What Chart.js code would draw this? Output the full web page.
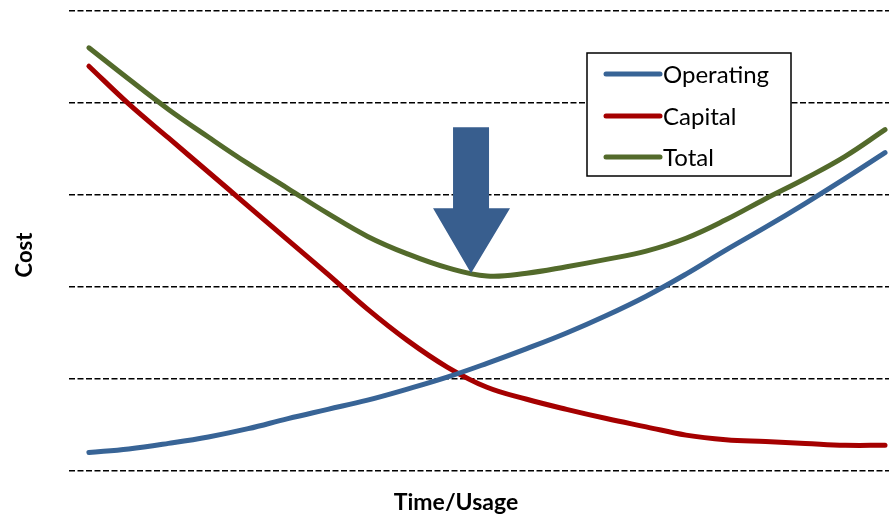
<!DOCTYPE html>
<html>
<head>
<meta charset="utf-8">
<script src="https://cdn.jsdelivr.net/npm/chart.js@4"></script>
<style>
  html, body { margin: 0; padding: 0; background: #fff; }
  #wrap { width: 889px; height: 516px; position: relative; }
</style>
</head>
<body>
<div id="wrap"><canvas id="costChart"></canvas></div>
<script>
// Waktu / pemakaian (sumbu x) dan nilai biaya tiap kurva
const timePoints = [1, 3, 5, 7, 9, 11, 13, 15, 17, 19, 21, 23, 25, 27, 29, 31, 33, 35, 37, 39, 41];
const operatingCost = [0.20, 0.24, 0.30, 0.37, 0.46, 0.57, 0.67, 0.77, 0.89, 1.02, 1.17, 1.33, 1.50, 1.69, 1.90, 2.14, 2.40, 2.65, 2.91, 3.18, 3.46];
const capitalCost = [4.40, 3.99, 3.62, 3.25, 2.88, 2.51, 2.14, 1.76, 1.42, 1.13, 0.91, 0.78, 0.67, 0.57, 0.48, 0.39, 0.34, 0.32, 0.30, 0.28, 0.28];
const totalCost = [4.60, 4.26, 3.93, 3.63, 3.34, 3.07, 2.80, 2.55, 2.36, 2.21, 2.12, 2.15, 2.22, 2.30, 2.39, 2.53, 2.73, 2.96, 3.18, 3.42, 3.71];
const seriesNames = ['Operating', 'Capital', 'Total'];
const seriesColors = ['#386496', '#A50000', '#536A2B'];

// Titik optimum yang ditunjuk panah (koordinat data)
const arrowTip = { x: 20.2, y: 2.15 };

const ctx = document.getElementById('costChart').getContext('2d');

function toXY(values) {
    return values.map((v, i) => ({ x: timePoints[i], y: v }));
}

// Plugin: judul sumbu, panah, dan kotak legenda di dalam area grafik
const overlayPlugin = {
    id: 'overlay',
    afterDraw(chart) {
        const c = chart.ctx;
        const xs = chart.scales.x;
        const ys = chart.scales.y;
        c.save();

        // judul sumbu
        c.fillStyle = '#000';
        c.font = 'bold 23px Lato, "Open Sans", sans-serif';
        c.textAlign = 'center';
        c.textBaseline = 'middle';
        c.fillText('Time/Usage', 456, 503);
        c.save();
        c.translate(25, 255);
        c.rotate(-Math.PI / 2);
        c.font = 'bold 22px Lato, "Open Sans", sans-serif';
        c.fillText('Cost', 0, 0);
        c.restore();

        // panah ke titik minimum total biaya
        const tx = xs.getPixelForValue(arrowTip.x);
        const ty = ys.getPixelForValue(arrowTip.y);
        c.fillStyle = '#385E8E';
        c.beginPath();
        c.moveTo(tx - 18, ty - 146);
        c.lineTo(tx + 18, ty - 146);
        c.lineTo(tx + 18, ty - 65);
        c.lineTo(tx + 39, ty - 65);
        c.lineTo(tx, ty);
        c.lineTo(tx - 38, ty - 65);
        c.lineTo(tx - 18, ty - 65);
        c.closePath();
        c.fill();

        // kotak legenda
        const bx = 587, by = 53, bw = 204, bh = 123;
        c.fillStyle = '#fff';
        c.fillRect(bx, by, bw, bh);
        c.strokeStyle = '#000';
        c.lineWidth = 1.5;
        c.strokeRect(bx, by, bw, bh);
        c.font = '24px Lato, "Open Sans", sans-serif';
        c.textAlign = 'left';
        c.textBaseline = 'middle';
        const rows = [74, 116, 157];
        chart.data.datasets.forEach((ds, i) => {
            c.strokeStyle = ds.borderColor;
            c.lineWidth = 5;
            c.lineCap = 'round';
            c.beginPath();
            c.moveTo(606, rows[i]);
            c.lineTo(660, rows[i]);
            c.stroke();
            c.fillStyle = '#000';
            c.fillText(ds.label, 663, rows[i] + 1);
        });
        c.restore();
    }
};

const datasets = [operatingCost, capitalCost, totalCost].map((vals, i) => ({
    label: seriesNames[i],
    data: toXY(vals),
    borderColor: seriesColors[i],
    backgroundColor: seriesColors[i],
    borderWidth: 5,
    borderCapStyle: 'round',
    borderJoinStyle: 'round',
    pointRadius: 0,
    tension: 0.4,
    fill: false
}));

new Chart(ctx, {
    type: 'line',
    data: { datasets: datasets },
    options: {
        responsive: true,
        maintainAspectRatio: false,
        animation: false,
        layout: { padding: { left: 69, top: 11, right: 0, bottom: 45 } },
        plugins: {
            legend: { display: false },
            tooltip: { enabled: false }
        },
        scales: {
            x: {
                type: 'linear',
                min: 0,
                max: 41.2,
                ticks: { display: false },
                grid: { display: false, drawTicks: false },
                border: { display: false }
            },
            y: {
                min: 0,
                max: 5,
                ticks: { display: false, stepSize: 1 },
                grid: {
                    color: '#000',
                    lineWidth: 1.5,
                    drawTicks: false
                },
                border: { display: false, dash: [6, 2.5] }
            }
        }
    },
    plugins: [overlayPlugin]
});
</script>
</body>
</html>
